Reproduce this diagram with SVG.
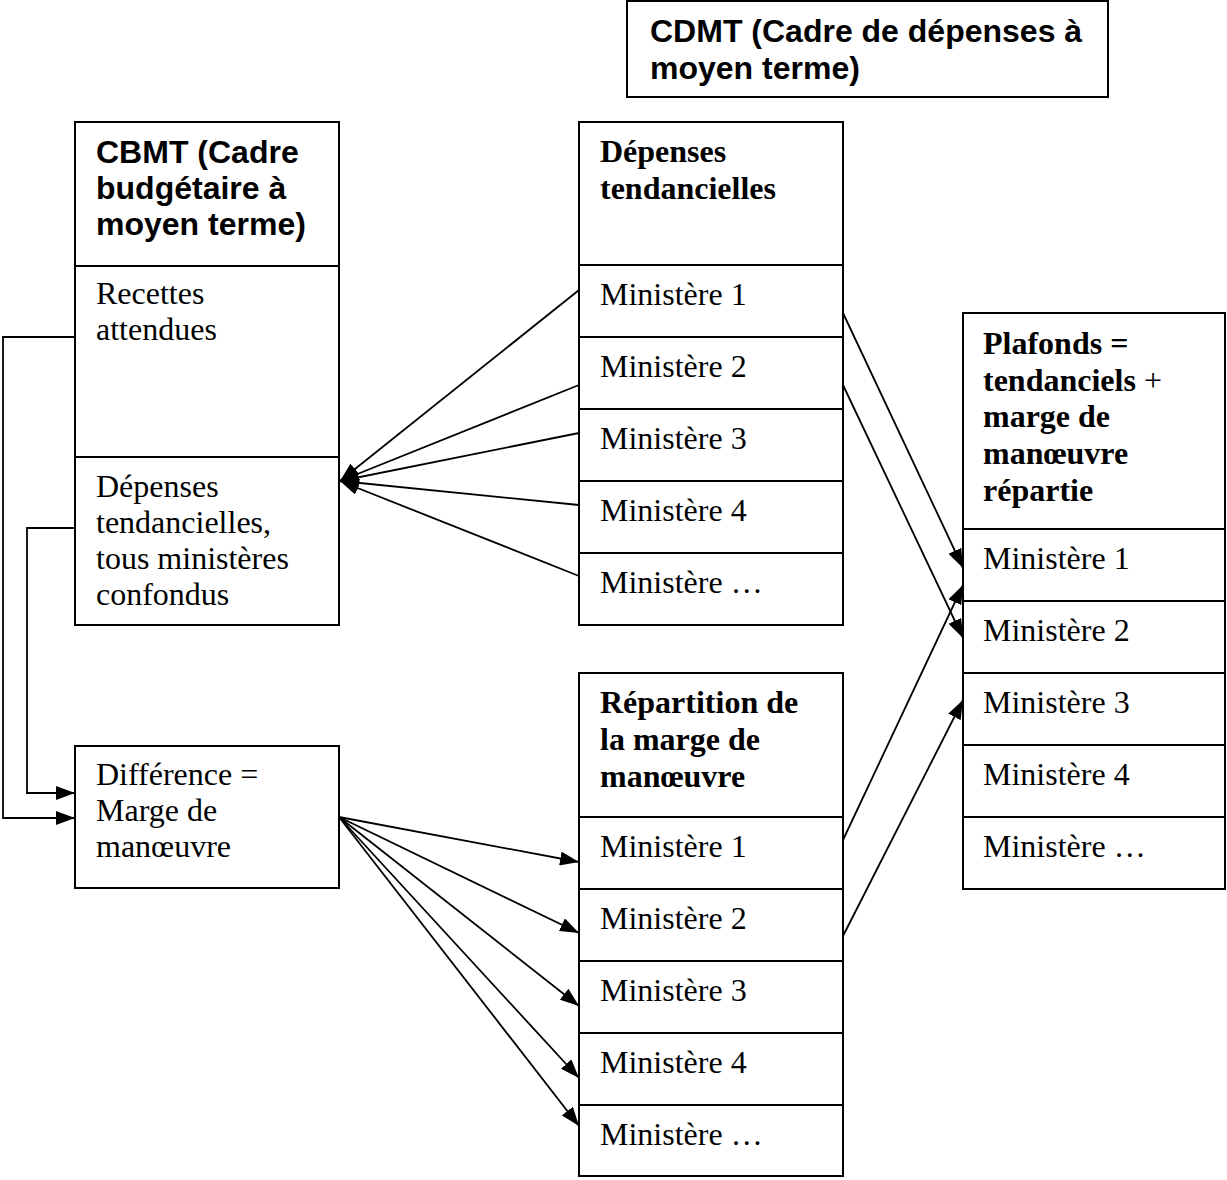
<svg xmlns="http://www.w3.org/2000/svg" width="1227" height="1180" viewBox="0 0 1227 1180">
  <style>
    .box { fill: #ffffff; stroke: #000000; stroke-width: 2; }
    .div { stroke: #000000; stroke-width: 2; fill: none; }
    .sans { font-family: "Liberation Sans", Arial, sans-serif; font-weight: bold; font-size: 32px; fill: #000000; }
    .serif { font-family: "Liberation Serif", "Times New Roman", serif; font-size: 32px; fill: #000000; }
    .serifb { font-family: "Liberation Serif", "Times New Roman", serif; font-weight: bold; font-size: 32px; fill: #000000; }
    .conn { stroke: #000000; stroke-width: 1.8; fill: none; }
  </style>
  <defs>
    <marker id="arrow" markerUnits="userSpaceOnUse" markerWidth="20" markerHeight="14" viewBox="0 0 20 14" refX="19" refY="7" orient="auto">
      <path d="M0,0 L19,7 L0,14 z" fill="#000000"/>
    </marker>
  </defs>

  <!-- CDMT title frame -->
  <g id="cdmt">
    <rect class="box" x="627" y="1" width="481" height="96"/>
    <text class="sans" x="650" y="42">CDMT (Cadre de dépenses à</text>
    <text class="sans" x="650" y="79">moyen terme)</text>
  </g>

  <!-- CBMT table -->
  <g id="cbmt">
    <rect class="box" x="75" y="122" width="264" height="503"/>
    <line class="div" x1="75" y1="266" x2="339" y2="266"/>
    <line class="div" x1="75" y1="457" x2="339" y2="457"/>
    <text class="sans" x="96" y="163">CBMT (Cadre</text>
    <text class="sans" x="96" y="199">budgétaire à</text>
    <text class="sans" x="96" y="235">moyen terme)</text>
    <text class="serif" x="96" y="304">Recettes</text>
    <text class="serif" x="96" y="340">attendues</text>
    <text class="serif" x="96" y="497">Dépenses</text>
    <text class="serif" x="96" y="533">tendancielles,</text>
    <text class="serif" x="96" y="569">tous ministères</text>
    <text class="serif" x="96" y="605">confondus</text>
  </g>

  <!-- Difference box -->
  <g id="difference">
    <rect class="box" x="75" y="746" width="264" height="142"/>
    <text class="serif" x="96" y="785">Différence =</text>
    <text class="serif" x="96" y="821">Marge de</text>
    <text class="serif" x="96" y="857">manœuvre</text>
  </g>

  <!-- Trend expenditure table -->
  <g id="depenses-tendancielles">
    <rect class="box" x="579" y="122" width="264" height="503"/>
    <line class="div" x1="579" y1="265" x2="843" y2="265"/>
    <line class="div" x1="579" y1="337" x2="843" y2="337"/>
    <line class="div" x1="579" y1="409" x2="843" y2="409"/>
    <line class="div" x1="579" y1="481" x2="843" y2="481"/>
    <line class="div" x1="579" y1="553" x2="843" y2="553"/>
    <text class="serifb" x="600" y="162">Dépenses</text>
    <text class="serifb" x="600" y="199">tendancielles</text>
    <text class="serif" x="600" y="305">Ministère 1</text>
    <text class="serif" x="600" y="377">Ministère 2</text>
    <text class="serif" x="600" y="449">Ministère 3</text>
    <text class="serif" x="600" y="521">Ministère 4</text>
    <text class="serif" x="600" y="593">Ministère …</text>
  </g>

  <!-- Margin allocation table -->
  <g id="repartition">
    <rect class="box" x="579" y="673" width="264" height="503"/>
    <line class="div" x1="579" y1="817" x2="843" y2="817"/>
    <line class="div" x1="579" y1="889" x2="843" y2="889"/>
    <line class="div" x1="579" y1="961" x2="843" y2="961"/>
    <line class="div" x1="579" y1="1033" x2="843" y2="1033"/>
    <line class="div" x1="579" y1="1105" x2="843" y2="1105"/>
    <text class="serifb" x="600" y="713">Répartition de</text>
    <text class="serifb" x="600" y="750">la marge de</text>
    <text class="serifb" x="600" y="787">manœuvre</text>
    <text class="serif" x="600" y="857">Ministère 1</text>
    <text class="serif" x="600" y="929">Ministère 2</text>
    <text class="serif" x="600" y="1001">Ministère 3</text>
    <text class="serif" x="600" y="1073">Ministère 4</text>
    <text class="serif" x="600" y="1145">Ministère …</text>
  </g>

  <!-- Ceilings table -->
  <g id="plafonds">
    <rect class="box" x="963" y="313" width="262" height="576"/>
    <line class="div" x1="963" y1="529" x2="1225" y2="529"/>
    <line class="div" x1="963" y1="601" x2="1225" y2="601"/>
    <line class="div" x1="963" y1="673" x2="1225" y2="673"/>
    <line class="div" x1="963" y1="745" x2="1225" y2="745"/>
    <line class="div" x1="963" y1="817" x2="1225" y2="817"/>
    <text class="serifb" x="983" y="354">Plafonds =</text>
    <text class="serifb" x="983" y="391"><tspan>tendanciels</tspan><tspan font-weight="normal"> +</tspan></text>
    <text class="serifb" x="983" y="427">marge de</text>
    <text class="serifb" x="983" y="464">manœuvre</text>
    <text class="serifb" x="983" y="501">répartie</text>
    <text class="serif" x="983" y="569">Ministère 1</text>
    <text class="serif" x="983" y="641">Ministère 2</text>
    <text class="serif" x="983" y="713">Ministère 3</text>
    <text class="serif" x="983" y="785">Ministère 4</text>
    <text class="serif" x="983" y="857">Ministère …</text>
  </g>

  <!-- Connectors -->
  <g id="connectors">
    <!-- revenue and trend totals into the difference -->
    <polyline class="conn" points="75,337 3,337 3,818 75,818" marker-end="url(#arrow)"/>
    <polyline class="conn" points="75,528 27,528 27,793 75,793" marker-end="url(#arrow)"/>
    <!-- ministry trends summed into CBMT -->
    <line class="conn" x1="579" y1="290" x2="340" y2="481" marker-end="url(#arrow)"/>
    <line class="conn" x1="579" y1="385" x2="340" y2="481" marker-end="url(#arrow)"/>
    <line class="conn" x1="579" y1="433" x2="340" y2="481" marker-end="url(#arrow)"/>
    <line class="conn" x1="579" y1="505" x2="340" y2="481" marker-end="url(#arrow)"/>
    <line class="conn" x1="579" y1="576" x2="340" y2="481" marker-end="url(#arrow)"/>
    <!-- margin split across ministries -->
    <line class="conn" x1="339" y1="817" x2="579" y2="862" marker-end="url(#arrow)"/>
    <line class="conn" x1="339" y1="817" x2="579" y2="933" marker-end="url(#arrow)"/>
    <line class="conn" x1="339" y1="817" x2="579" y2="1006" marker-end="url(#arrow)"/>
    <line class="conn" x1="339" y1="817" x2="579" y2="1078" marker-end="url(#arrow)"/>
    <line class="conn" x1="339" y1="817" x2="579" y2="1126" marker-end="url(#arrow)"/>
    <!-- trends and margins into ceilings -->
    <line class="conn" x1="843" y1="313" x2="963" y2="568" marker-end="url(#arrow)"/>
    <line class="conn" x1="843" y1="385" x2="963" y2="638" marker-end="url(#arrow)"/>
    <line class="conn" x1="843" y1="840" x2="963" y2="585" marker-end="url(#arrow)"/>
    <line class="conn" x1="843" y1="936" x2="963" y2="700" marker-end="url(#arrow)"/>
  </g>
</svg>
